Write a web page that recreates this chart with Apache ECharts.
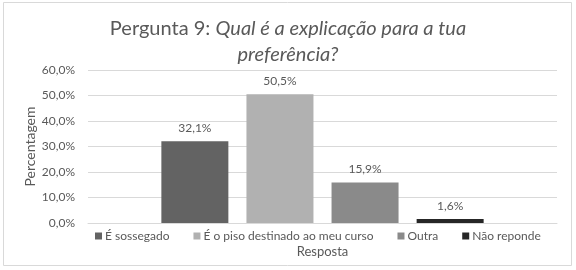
<!DOCTYPE html>
<html>
<head>
    <meta charset="utf-8">
    <title>Pergunta 9</title>
    <script src="https://cdn.jsdelivr.net/npm/echarts@6/dist/echarts.min.js"></script>
    <style>
        body { margin: 0; background: #fff; }
        #main { width: 576px; height: 270px; }
    </style>
</head>
<body>
<div id="main"></div>
<script>
    // dados
    var categorias = ['Resposta'];
    var respostas = ['É sossegado', 'É o piso destinado ao meu curso', 'Outra', 'Não reponde'];
    var valores = [32.1, 50.5, 15.9, 1.6];
    var cores = ['#636363', '#b1b1b1', '#8a8a8a', '#262626'];
    var yMin = 0, yMax = 60, yStep = 10;

    var fonte = 'Lato, "Open Sans", sans-serif';
    var cinza = '#595959';

    function pct(v, casas) {
        return v.toFixed(casas).replace('.', ',') + '%';
    }

    var series = [];
    for (var i = 0; i < respostas.length; i++) {
        series.push({
            name: respostas[i],
            type: 'bar',
            data: [valores[i]],
            barWidth: 67,
            barGap: '27%',
            itemStyle: { color: cores[i] },
            label: {
                show: true,
                position: 'top',
                distance: 7,
                color: cinza,
                fontFamily: fonte,
                fontSize: 12,
                formatter: function (p) { return pct(p.value, 1); }
            }
        });
    }

    var myChart = echarts.init(document.getElementById('main'));

    var option = {
        backgroundColor: '#fff',
        animation: false,
        title: {
            text: '{n|Pergunta 9: }{i|Qual é a explicação para a tua}\n{i|preferência?}',
            left: 'center',
            top: 11,
            textStyle: {
                fontWeight: 'normal',
                rich: {
                    n: { fontFamily: fonte, fontSize: 20, fontWeight: 'normal', color: cinza, lineHeight: 26 },
                    i: { fontFamily: fonte, fontSize: 20, fontWeight: 'normal', color: cinza, fontStyle: 'italic', lineHeight: 26 }
                }
            }
        },
        graphic: [{
            type: 'rect',
            shape: { x: 3.5, y: 2.5, width: 568, height: 263 },
            style: { fill: 'none', stroke: '#d9d9d9', lineWidth: 1 },
            silent: true
        }],
        legend: {
            left: 90,
            top: 225,
            icon: 'rect',
            itemWidth: 7,
            itemHeight: 7,
            itemGap: 24,
            textStyle: { color: cinza, fontFamily: fonte, fontSize: 12, padding: [0, 0, 0, -2] },
            data: respostas
        },
        grid: {
            left: 88,
            right: 19,
            top: 70,
            bottom: 47
        },
        xAxis: {
            type: 'category',
            data: categorias,
            name: 'Resposta',
            nameLocation: 'middle',
            nameGap: 22,
            nameTextStyle: { color: cinza, fontFamily: fonte, fontSize: 13 },
            axisLine: { lineStyle: { color: '#d9d9d9' } },
            axisTick: { show: false },
            axisLabel: { show: false }
        },
        yAxis: {
            type: 'value',
            min: yMin,
            max: yMax,
            interval: yStep,
            name: 'Percentagem',
            nameLocation: 'middle',
            nameGap: 51,
            nameMoveOverlap: false,
            nameTextStyle: { color: cinza, fontFamily: fonte, fontSize: 14 },
            axisLine: { show: false },
            axisTick: { show: false },
            axisLabel: {
                color: cinza,
                fontFamily: fonte,
                fontSize: 12,
                margin: 13,
                formatter: function (v) { return pct(v, 1); }
            },
            splitLine: { lineStyle: { color: '#d9d9d9' } }
        },
        series: series
    };

    myChart.setOption(option);
</script>
</body>
</html>
